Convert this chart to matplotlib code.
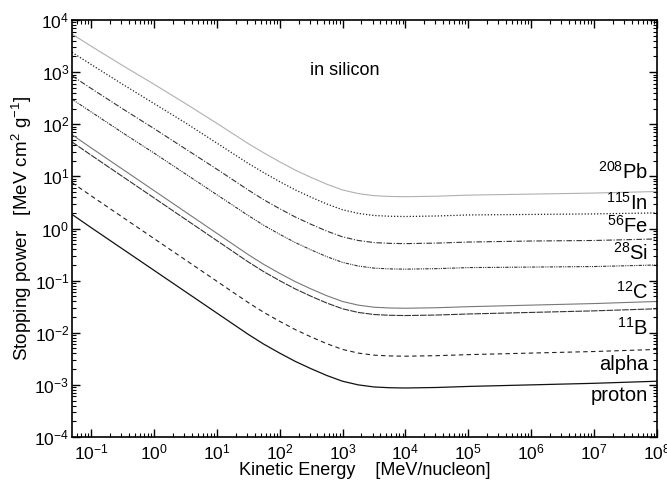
import matplotlib
matplotlib.use("Agg")
import matplotlib.pyplot as plt
import numpy as np

plt.rcParams['font.family'] = ['Liberation Sans', 'DejaVu Sans']
plt.rcParams['mathtext.fontset'] = 'custom'
plt.rcParams['mathtext.rm'] = 'Liberation Sans'
plt.rcParams['mathtext.it'] = 'Liberation Sans:italic'
plt.rcParams['mathtext.bf'] = 'Liberation Sans:bold'

# log10 of kinetic energy [MeV/nucleon]
log_energia = [-1.3, -1, -0.5, 0, 0.5, 1, 1.5, 1.75, 2, 2.25, 2.5, 2.75, 3, 3.25, 3.5, 3.75, 4, 4.5, 5, 6, 7, 8]

# log10 of stopping power [MeV cm2 g-1]
log_proton = [0.27, 0.02, -0.39, -0.80, -1.21, -1.62, -2.03, -2.22, -2.39, -2.55, -2.69, -2.82, -2.93, -3.00, -3.04, -3.055, -3.06, -3.05, -3.03, -3.00, -2.97, -2.93]
log_alpha = [0.88, 0.63, 0.22, -0.19, -0.60, -1.01, -1.42, -1.61, -1.78, -1.94, -2.08, -2.21, -2.32, -2.39, -2.43, -2.445, -2.45, -2.44, -2.42, -2.39, -2.36, -2.32]
log_boro = [1.66, 1.41, 1.00, 0.59, 0.18, -0.23, -0.64, -0.83, -1.00, -1.16, -1.30, -1.43, -1.54, -1.61, -1.65, -1.665, -1.67, -1.66, -1.64, -1.61, -1.58, -1.54]
log_carbono = [1.80, 1.55, 1.14, 0.73, 0.32, -0.09, -0.50, -0.69, -0.86, -1.02, -1.16, -1.29, -1.40, -1.47, -1.51, -1.525, -1.53, -1.52, -1.50, -1.47, -1.44, -1.40]
log_silicio = [2.48, 2.24, 1.84, 1.45, 1.05, 0.65, 0.25, 0.06, -0.11, -0.27, -0.41, -0.54, -0.65, -0.72, -0.76, -0.775, -0.78, -0.77, -0.75, -0.74, -0.73, -0.70]
log_hierro = [2.93, 2.69, 2.30, 1.92, 1.53, 1.14, 0.74, 0.55, 0.38, 0.22, 0.08, -0.05, -0.16, -0.23, -0.27, -0.285, -0.29, -0.28, -0.26, -0.24, -0.23, -0.20]
log_indio = [3.38, 3.15, 2.77, 2.40, 2.03, 1.64, 1.25, 1.07, 0.90, 0.74, 0.60, 0.47, 0.36, 0.29, 0.25, 0.235, 0.23, 0.24, 0.26, 0.27, 0.28, 0.30]
log_plomo = [3.73, 3.50, 3.13, 2.77, 2.40, 2.02, 1.63, 1.45, 1.28, 1.12, 0.98, 0.85, 0.74, 0.67, 0.63, 0.615, 0.61, 0.62, 0.64, 0.66, 0.68, 0.71]

etiquetas = [r'$^{208}$Pb', r'$^{115}$In', r'$^{56}$Fe', r'$^{28}$Si',
             r'$^{12}$C', r'$^{11}$B', 'alpha', 'proton']
log_y_etiquetas = [1.08, 0.49, 0.05, -0.47, -1.21, -1.91, -2.60, -3.21]

curvas = [
    (log_plomo, dict(color='#b0b0b0', ls='-', lw=0.8)),
    (log_indio, dict(color='#222222', ls=(0, (1, 1.5)), lw=0.9)),
    (log_hierro, dict(color='#333333', ls=(0, (5, 1.5, 1, 1.5)), lw=0.8)),
    (log_silicio, dict(color='#333333', ls=(0, (3, 1, 1, 1, 1, 1)), lw=0.8)),
    (log_carbono, dict(color='#777777', ls='-', lw=0.8)),
    (log_boro, dict(color='#333333', ls=(0, (6, 1)), lw=0.8)),
    (log_alpha, dict(color='#222222', ls=(0, (4, 3)), lw=0.8)),
    (log_proton, dict(color='#111111', ls='-', lw=0.9)),
]

fig = plt.figure(figsize=(6.67, 4.8), dpi=100)
ax = fig.add_axes([0.108, 0.0896, 0.877, 0.8687])

x = 10 ** np.array(log_energia)
for datos, estilo in curvas:
    ax.plot(x, 10 ** np.array(datos), **estilo)

for texto, ly in zip(etiquetas, log_y_etiquetas):
    ax.text(7.2e7, 10 ** ly, texto, ha='right', va='center', fontsize=14.5)

ax.text(0.467, 0.88, 'in silicon', transform=ax.transAxes, ha='center',
        va='center', fontsize=13)

ax.set_xscale('log')
ax.set_yscale('log')
ax.set_xlim(10 ** -1.3, 1e8)
ax.set_ylim(1e-4, 1e4)
ax.set_xticks([10.0 ** k for k in range(-1, 9)])
ax.set_yticks([10.0 ** k for k in range(-4, 5)])
ax.xaxis.set_minor_locator(matplotlib.ticker.LogLocator(base=10, subs=np.arange(2, 10), numticks=20))
ax.yaxis.set_minor_locator(matplotlib.ticker.LogLocator(base=10, subs=np.arange(2, 10), numticks=20))
ax.xaxis.set_minor_formatter(matplotlib.ticker.NullFormatter())
ax.yaxis.set_minor_formatter(matplotlib.ticker.NullFormatter())
ax.tick_params(which='both', direction='in', top=True, right=True, labelsize=12.5)
ax.tick_params(which='major', length=6, width=1)
ax.tick_params(which='minor', length=3, width=0.8)
ax.tick_params(axis='x', which='major', pad=4)
ax.tick_params(axis='y', which='major', pad=2)
for lado in ax.spines.values():
    lado.set_linewidth(1.2)

ax.set_xlabel('Kinetic Energy    [MeV/nucleon]', fontsize=13, labelpad=0)
ax.set_ylabel(r'Stopping power   [MeV cm$^2$ g$^{-1}$]', fontsize=13.5, labelpad=0)

fig.savefig('out.png', dpi=100)
